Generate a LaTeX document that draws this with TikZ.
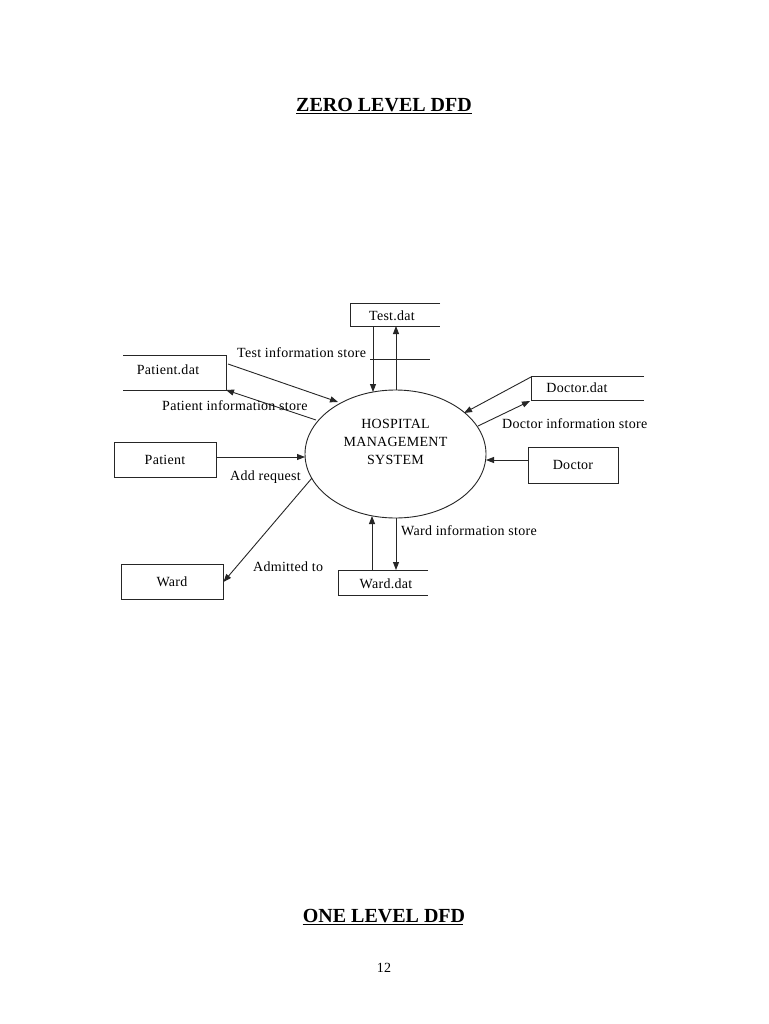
\documentclass[tikz,border=0pt]{standalone}
\usepackage{fontspec}
\setmainfont{Liberation Serif}
\usetikzlibrary{arrows.meta,shapes.geometric}
\newfontfamily\lblfont[LetterSpace=2]{Liberation Serif}
\begin{document}
\begin{tikzpicture}[x=1pt,y=-1pt,
  line/.style={draw=black!85,line width=0.9pt},
  flow/.style={line,-{Triangle[length=8pt,width=6pt]}},
  lbl/.style={font=\lblfont\fontsize{14}{15}\selectfont,inner sep=0pt},
  ttl/.style={font=\bfseries\fontsize{20}{22}\selectfont,inner sep=0pt},
  boxed/.style={line,minimum width=102pt,minimum height=35pt,inner sep=0pt,font=\lblfont\fontsize{14}{15}\selectfont}]
\useasboundingbox (0,0) rectangle (768,1024);
\fill[white] (0,0) rectangle (768,1024);

% titles
\node[ttl] (t1) at (384,105) {ZERO LEVEL DFD};
\draw[line width=1.2pt] (t1.south west)++(0,1.5) -- ++(176,0);
\node[ttl] (t2) at (384,916) {ONE LEVEL DFD};
\draw[line width=1.2pt] (t2.south west)++(0,1.5) -- ++(160,0);
\node[lbl] (pg) at (384,968) {12};

% process
\node[line,ellipse,minimum width=181pt,minimum height=128pt,inner sep=0pt,
  align=center,font=\lblfont\fontsize{14}{18}\selectfont] (hms) at (395.5,454)
  {HOSPITAL\\MANAGEMENT\\SYSTEM\\[6pt]};

% data stores (open on right or left)
\coordinate (tdTL) at (350,303);
\coordinate (tdBL) at (350,326);
\draw[line] (440,303) -- (tdTL) -- (tdBL) -- (440,326);
\node[lbl] (td) at (392,316) {Test.dat};

\coordinate (pdTR) at (226,355);
\coordinate (pdBR) at (226,390);
\draw[line] (123,355) -- (pdTR) -- (pdBR) -- (123,390);
\node[lbl] (pd) at (168,370) {Patient.dat};

\coordinate (ddTL) at (531,376);
\coordinate (ddBL) at (531,400);
\draw[line] (644,376) -- (ddTL) -- (ddBL) -- (644,400);
\node[lbl] (dd) at (577,388) {Doctor.dat};

\coordinate (wdTL) at (338,570);
\coordinate (wdBL) at (338,595);
\draw[line] (428,570) -- (wdTL) -- (wdBL) -- (428,595);
\node[lbl] (wd) at (386,584) {Ward.dat};

% external entities
\node[boxed] (pat) at (165,459.5) {Patient};
\node[boxed,minimum width=90pt,minimum height=36pt] (doc) at (573,465) {Doctor};
\node[boxed] (ward) at (172,582) {Ward};

% connector end points
\coordinate (tdA) at (373,326);
\coordinate (tdB) at (396,326);
\coordinate (eTa) at (373,392);
\coordinate (eTb) at (396,390);
\coordinate (pdA) at (228,364);
\coordinate (ePa) at (338,402);
\coordinate (ePb) at (316,420);
\coordinate (ddA) at (531,377);
\coordinate (eDa) at (464,413);
\coordinate (eDb) at (478,426);
\coordinate (ddB) at (530,401);
\coordinate (eW) at (312,478);
\coordinate (wdA) at (372,570);
\coordinate (wdB) at (396,570);
\coordinate (eWa) at (372,516);
\coordinate (eWb) at (396,518);
\coordinate (patR) at (216,457);
\coordinate (eL) at (305,457);
\coordinate (docL) at (528,460);
\coordinate (eR) at (486,460);
\coordinate (ulA) at (370,359);
\coordinate (ulB) at (430,359);

% flows
\draw[flow] (tdA) -- (eTa);
\draw[flow] (eTb) -- (tdB);
\draw[flow] (pdA) -- (ePa);
\draw[flow] (ePb) -- (pdBR);
\draw[flow] (ddA) -- (eDa);
\draw[flow] (eDb) -- (ddB);
\draw[flow] (patR) -- (eL);
\draw[flow] (docL) -- (eR);
\draw[flow] (eW) -- (ward.east);
\draw[flow] (wdA) -- (eWa);
\draw[flow] (eWb) -- (wdB);

% labels
\node[lbl,anchor=west] (l1) at (237,353) {Test information store};
\draw[line] (ulA) -- (ulB);
\node[lbl,anchor=west] (l2) at (162,406) {Patient information store};
\node[lbl,anchor=west] (l3) at (502,424) {Doctor information store};
\node[lbl,anchor=west] (l4) at (230,477) {Add request};
\node[lbl,anchor=west] (l5) at (253,567) {Admitted to};
\node[lbl,anchor=west] (l6) at (401,531) {Ward information store};
\end{tikzpicture}
\end{document}
